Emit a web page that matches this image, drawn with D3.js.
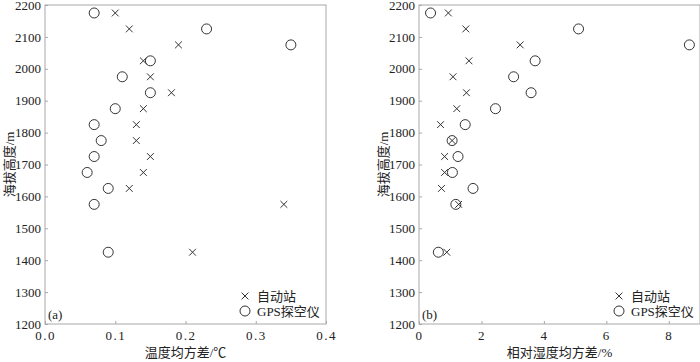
<!DOCTYPE html>
<html lang="zh">
<head>
<meta charset="utf-8">
<title>海拔高度与均方差</title>
<script src="https://d3js.org/d3.v7.min.js"></script>
<style>
  body { margin: 0; background: #fff; }
  svg text { font-family: "Liberation Serif", "Noto Sans CJK SC", serif; fill: #222; }
</style>
</head>
<body>
<script>
// heights (m) shared by both panels
var heights = [2175, 2125, 2075, 2025, 1975, 1925, 1875, 1825, 1775, 1725, 1675, 1625, 1575, 1425];
// panel (a): temperature RMS (℃)
var tempAWS = [0.10, 0.12, 0.19, 0.14, 0.15, 0.18, 0.14, 0.13, 0.13, 0.15, 0.14, 0.12, 0.34, 0.21];
var tempGPS = [0.07, 0.23, 0.35, 0.15, 0.11, 0.15, 0.10, 0.07, 0.08, 0.07, 0.06, 0.09, 0.07, 0.09];
// panel (b): relative humidity RMS (%)
var rhAWS = [0.94, 1.50, 3.24, 1.60, 1.09, 1.52, 1.21, 0.69, 1.06, 0.82, 0.82, 0.72, 1.27, 0.89];
var rhGPS = [0.37, 5.11, 8.66, 3.72, 3.03, 3.59, 2.45, 1.48, 1.06, 1.25, 1.07, 1.73, 1.18, 0.62];

var yTicks = [1200, 1300, 1400, 1500, 1600, 1700, 1800, 1900, 2000, 2100, 2200];
var legendNames = ["自动站", "GPS探空仪"];

var W = 700, H = 362;
var svg = d3.select("body").append("svg").attr("width", W).attr("height", H);

var plotTop = 5, plotBottom = 324, pw = 281;

function panel(left, xDomain, xTicks, xFmt, aws, gps, xTitle, tag) {
  var g = svg.append("g");
  var x = d3.scaleLinear().domain(xDomain).range([left, left + pw]);
  var y = d3.scaleLinear().domain([1200, 2200]).range([plotBottom, plotTop]);

  //frame
  g.append("rect")
    .attr("x", left).attr("y", plotTop)
    .attr("width", pw).attr("height", plotBottom - plotTop)
    .attr("fill", "none").attr("stroke", "#a8a8a8").attr("stroke-width", 1);

  var xa = g.append("g").attr("transform", "translate(0," + plotBottom + ")")
    .call(d3.axisBottom(x).tickValues(xTicks).tickFormat(xFmt).tickSizeInner(-3).tickSizeOuter(0).tickPadding(7));
  var ya = g.append("g").attr("transform", "translate(" + left + ",0)")
    .call(d3.axisLeft(y).tickValues(yTicks).tickFormat(d3.format("d")).tickSizeInner(-3).tickSizeOuter(0).tickPadding(4));
  [xa, ya].forEach(function(a) {
    a.select(".domain").remove();
    a.selectAll(".tick line").attr("stroke", "#a8a8a8");
    a.selectAll(".tick text").attr("font-size", 13).attr("fill", "#222")
      .style("font-family", "'Liberation Serif', serif");
  });
  xa.selectAll(".tick text").style("letter-spacing", "1.5px");

  //axis titles
  g.append("text").attr("x", left + pw / 2).attr("y", 357)
    .attr("text-anchor", "middle").attr("font-size", 13).text(xTitle);
  g.append("text")
    .attr("transform", "translate(" + (left - 31) + "," + ((plotTop + plotBottom) / 2) + ") rotate(-90)")
    .attr("text-anchor", "middle").attr("font-size", 13).text("海拔高度/m");

  // crosses
  var s = 3.4;
  g.selectAll("path.aws").data(aws).enter().append("path")
    .attr("class", "aws")
    .attr("d", function(d, i) {
      var cx = x(d), cy = y(heights[i]);
      return "M" + (cx - s) + "," + (cy - s) + "L" + (cx + s) + "," + (cy + s) +
             "M" + (cx - s) + "," + (cy + s) + "L" + (cx + s) + "," + (cy - s);
    })
    .attr("stroke", "#333").attr("stroke-width", 1).attr("fill", "none");

  // circles
  g.selectAll("circle.gps").data(gps).enter().append("circle")
    .attr("class", "gps")
    .attr("cx", function(d) { return x(d); })
    .attr("cy", function(d, i) { return y(heights[i]); })
    .attr("r", 5)
    .attr("fill", "none").attr("stroke", "#333").attr("stroke-width", 1);

  //legend
  var lx = left + pw - 81;
  g.append("path")
    .attr("d", "M" + (lx - s) + "," + (296 - s) + "L" + (lx + s) + "," + (296 + s) +
               "M" + (lx - s) + "," + (296 + s) + "L" + (lx + s) + "," + (296 - s))
    .attr("stroke", "#333").attr("fill", "none");
  g.append("circle").attr("cx", lx).attr("cy", 311).attr("r", 5)
    .attr("fill", "none").attr("stroke", "#333");
  g.append("text").attr("x", lx + 12).attr("y", 300.5).attr("font-size", 13).text(legendNames[0]);
  g.append("text").attr("x", lx + 12).attr("y", 315.5).attr("font-size", 13).text(legendNames[1]);

  g.append("text").attr("x", left + 3).attr("y", 319).attr("font-size", 13).text(tag);
}

panel(45, [0, 0.4], [0, 0.1, 0.2, 0.3, 0.4], d3.format(".1f"), tempAWS, tempGPS, "温度均方差/℃", "(a)");
panel(419, [0, 9], [0, 2, 4, 6, 8], d3.format("d"), rhAWS, rhGPS, "相对湿度均方差/%", "(b)");
</script>
</body>
</html>
